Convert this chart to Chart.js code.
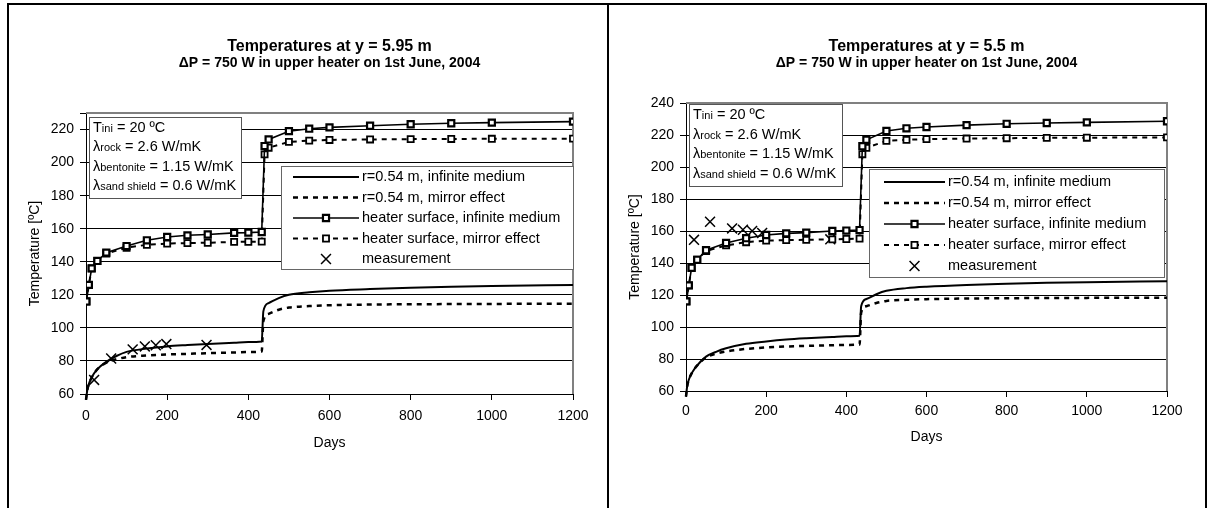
<!DOCTYPE html>
<html lang="en">
<head>
<meta charset="utf-8">
<title>Temperatures at y = 5.95 m and y = 5.5 m</title>
<script src="https://cdn.jsdelivr.net/npm/chart.js@4.4.1/dist/chart.umd.min.js"></script>
<style>
  html, body { margin: 0; padding: 0; background: #fff; }
  body { position: relative; width: 1210px; height: 508px; overflow: hidden; }
  canvas { position: absolute; top: 0; }
  #chartA { left: 0; }
  #chartB { left: 608px; }
  .frame { position: absolute; top: 3px; height: 540px; border: 2px solid #000; box-sizing: border-box; pointer-events: none; }
</style>
</head>
<body>
<canvas id="chartA" width="608" height="508"></canvas>
<canvas id="chartB" width="602" height="508"></canvas>
<div class="frame" style="left:7px; width:602px;"></div>
<div class="frame" style="left:607px; width:600px;"></div>
<script>
// output times of the model runs (days)
const surfaceDays = [1, 7, 14, 28, 50, 100, 150, 200, 250, 300, 365, 400, 433, 440, 450, 500, 550, 600, 700, 800, 900, 1000, 1200];
const nearDays = [0, 3, 7, 14, 28, 50, 75, 100, 150, 200, 250, 300, 365, 400, 433, 437, 450, 475, 500, 550, 600, 700, 800, 900, 1000, 1200];

// y = 5.95 m
const nearInf595 = [56.5, 62, 66, 70, 75, 79.5, 83, 85.5, 87.5, 88.8, 89.6, 90.3, 91, 91.4, 91.8, 110, 115, 118, 120, 121.5, 122.5, 123.5, 124.3, 124.9, 125.4, 126];
const nearMir595 = [56.5, 62, 66, 70, 75, 79, 81, 82.3, 83.3, 83.9, 84.3, 84.7, 85.1, 85.4, 85.7, 104, 108.5, 111, 112.3, 113.2, 113.7, 114.1, 114.3, 114.4, 114.5, 114.6];
const surfInf595 = [116, 126, 136, 140.5, 145.5, 149.5, 153, 155, 156, 156.5, 157.5, 157.6, 158, 210, 214, 219, 220.5, 221.3, 222.3, 223.2, 223.8, 224.2, 224.8];
const surfMir595 = [116, 126, 136, 140.5, 145, 148.5, 150.3, 151, 151.3, 151.5, 152, 152.1, 152.2, 205, 209, 212.5, 213.3, 213.7, 214, 214.2, 214.3, 214.4, 214.5];
const measDays595 = [20, 62, 115, 145, 172, 198, 297];
const measTemps595 = [68.5, 81.5, 87, 88.8, 89.5, 90.2, 89.7];

// y = 5.5 m
const nearInf55 = [56.5, 63, 67, 71, 76, 81.5, 84.5, 86.7, 89.5, 91, 92.2, 93, 93.8, 94.2, 94.5, 113, 117.5, 120.5, 122.6, 124.3, 125.2, 126.3, 127, 127.6, 128, 128.6];
const nearMir55 = [56.5, 63, 67, 71, 76, 81, 83.3, 84.7, 86.3, 87.2, 87.8, 88.2, 88.6, 88.8, 89, 109, 113, 115, 116.3, 117, 117.4, 117.8, 118, 118.1, 118.2, 118.3];
const surfInf55 = [116, 126, 137, 142, 148, 152.5, 155.5, 157.5, 158.5, 159, 160, 160.3, 160.6, 213, 217, 222.5, 224.2, 225, 226.2, 227, 227.5, 227.9, 228.6];
const surfMir55 = [116, 126, 137, 142, 147.5, 151, 153, 154, 154.3, 154.5, 154.8, 155, 155.2, 208, 212, 216.3, 217, 217.4, 217.8, 218, 218.2, 218.3, 218.5];
const measDays55 = [20, 60, 115, 142, 165, 190, 360];
const measTemps55 = [154.5, 165.8, 161.6, 160.8, 160, 158.8, 154.8];

const seriesNames = [
  'r=0.54 m, infinite medium',
  'r=0.54 m, mirror effect',
  'heater surface, infinite medium',
  'heater surface, mirror effect',
  'measurement'
];
const subtitleText = '\u0394P = 750 W in upper heater on 1st June, 2004';
// [symbol, subscript, rest]
const paramLines = [
  ['T', 'ini', ' = 20 \u00baC'],
  ['\u03bb', 'rock', ' = 2.6 W/mK'],
  ['\u03bb', 'bentonite', ' = 1.15 W/mK'],
  ['\u03bb', 'sand shield', ' = 0.6 W/mK']
];

const FONT = '"Liberation Sans", Arial, sans-serif';
Chart.defaults.font.family = FONT;
Chart.defaults.color = '#000';

const pts = (xs, ys) => xs.map((x, i) => ({ x: x, y: ys[i] }));

function buildDatasets(nearInf, nearMir, surfInf, surfMir, measDays, measTemps) {
  return [
    { label: seriesNames[0], data: pts(nearDays, nearInf), borderColor: '#000', borderWidth: 2,
      pointRadius: 0, cubicInterpolationMode: 'monotone', clip: false },
    { label: seriesNames[1], data: pts(nearDays, nearMir), borderColor: '#000', borderWidth: 2.5,
      borderDash: [5, 5], pointRadius: 0, cubicInterpolationMode: 'monotone', clip: false },
    { label: seriesNames[2], data: pts(surfaceDays, surfInf), borderColor: '#000', borderWidth: 1.6,
      pointStyle: 'rect', pointRadius: 4.3, pointBorderWidth: 2.2, pointBorderColor: '#000', pointBackgroundColor: '#fff' },
    { label: seriesNames[3], data: pts(surfaceDays, surfMir), borderColor: '#000', borderWidth: 2,
      borderDash: [5, 5], pointStyle: 'rect', pointRadius: 4.3, pointBorderWidth: 1.8, pointBorderColor: '#000', pointBackgroundColor: '#fff' },
    { label: seriesNames[4], data: pts(measDays, measTemps), showLine: false, borderColor: '#000',
      pointStyle: 'crossRot', pointRadius: 7, pointBorderWidth: 1.5, pointBorderColor: '#000' }
  ];
}

// grey frame on the top and right of the plot area
const plotFrame = {
  id: 'plotFrame',
  beforeDatasetsDraw(chart) {
    const { ctx, chartArea: a } = chart;
    ctx.save();
    ctx.strokeStyle = '#808080';
    ctx.lineWidth = 2;
    ctx.beginPath();
    ctx.moveTo(a.left, a.top);
    ctx.lineTo(a.right, a.top);
    ctx.lineTo(a.right, a.bottom);
    ctx.stroke();
    ctx.restore();
  }
};

// parameter box and series key
const keys = {
  id: 'keys',
  afterDraw(chart, args, opts) {
    const ctx = chart.ctx;
    const p = opts.params;
    const k = opts.key;
    ctx.save();

    ctx.fillStyle = '#fff';
    ctx.fillRect(p.x, p.y, p.w, p.h);
    ctx.strokeStyle = '#555';
    ctx.lineWidth = 1;
    ctx.strokeRect(p.x + 0.5, p.y + 0.5, p.w, p.h);
    ctx.fillStyle = '#000';
    ctx.textBaseline = 'alphabetic';
    ctx.textAlign = 'left';
    paramLines.forEach((parts, i) => {
      let x = p.x + 4;
      const y = p.y + p.first + i * p.step;
      parts.forEach((s, j) => {
        ctx.font = (j === 1 ? '11px ' : '14.5px ') + FONT;
        ctx.fillText(s, x, y);
        x += ctx.measureText(s).width;
      });
    });

    ctx.fillStyle = '#fff';
    ctx.fillRect(k.x, k.y, k.w, k.h);
    ctx.strokeStyle = '#666';
    ctx.strokeRect(k.x + 0.5, k.y + 0.5, k.w, k.h);
    ctx.font = '14.5px ' + FONT;
    ctx.textBaseline = 'middle';
    chart.data.datasets.forEach((ds, i) => {
      const y = k.rows[i];
      const mid = (k.x1 + k.x2) / 2;
      ctx.strokeStyle = '#000';
      ctx.fillStyle = '#000';
      if (ds.showLine !== false) {
        ctx.lineWidth = ds.borderWidth;
        ctx.setLineDash(ds.borderDash || []);
        ctx.beginPath();
        ctx.moveTo(k.x1, y);
        ctx.lineTo(k.x2, y);
        ctx.stroke();
        ctx.setLineDash([]);
      }
      if (ds.pointRadius) {
        ctx.lineWidth = ds.pointBorderWidth;
        ctx.fillStyle = ds.pointBackgroundColor || '#fff';
        Chart.helpers.drawPoint(ctx, { pointStyle: ds.pointStyle, radius: ds.pointRadius, borderWidth: ds.pointBorderWidth, rotation: 0 }, mid, y);
      }
      ctx.fillStyle = '#000';
      ctx.fillText(ds.label, k.tx, y);
    });
    ctx.restore();
  }
};

function buildOptions(cfg) {
  return {
    responsive: false,
    animation: false,
    events: [],
    layout: { padding: { left: cfg.padLeft, right: cfg.padRight, top: 0, bottom: cfg.padBottom } },
    plugins: {
      legend: { display: false },
      tooltip: { enabled: false },
      title: {
        display: true, text: cfg.title, fullSize: false, color: '#000',
        font: { size: 16, weight: 'bold', lineHeight: 1 }, padding: { top: 39, bottom: 0 }
      },
      subtitle: {
        display: true, text: subtitleText, fullSize: false, color: '#000',
        font: { size: 14, weight: 'bold', lineHeight: 1.2 }, padding: { top: 0, bottom: cfg.subGap }
      },
      keys: { params: cfg.params, key: cfg.key }
    },
    scales: {
      x: {
        type: 'linear', min: 0, max: 1200,
        ticks: { stepSize: 200, padding: cfg.tickPad, font: { size: 14 }, color: '#000', callback: (v) => String(v) },
        grid: { drawOnChartArea: false, tickLength: 6, color: '#000' },
        border: { color: '#000', width: 1 },
        title: { display: true, text: 'Days', font: { size: 14 }, padding: 0, color: '#000' },
        afterFit: (s) => { s.height = cfg.xHeight; }
      },
      y: {
        type: 'linear', min: 60, max: cfg.yMax, bounds: 'data',
        ticks: { stepSize: 20, includeBounds: false, padding: 6, font: { size: 14 }, color: '#000',
          callback: (v) => (v % 20 === 0 ? String(v) : '') },
        grid: { color: '#000', lineWidth: 1, tickLength: 6 },
        border: { color: '#000', width: 1 },
        title: { display: true, text: 'Temperature [\u00baC]', font: { size: 14 }, padding: 0, color: '#000' },
        afterFit: (s) => { s.width = 59; }
      }
    }
  };
}

new Chart(document.getElementById('chartA'), {
  type: 'line',
  data: { datasets: buildDatasets(nearInf595, nearMir595, surfInf595, surfMir595, measDays595, measTemps595) },
  options: buildOptions({
    title: 'Temperatures at y = 5.95 m', yMax: 230,
    padLeft: 27, padRight: 35, padBottom: 56, xHeight: 58, tickPad: 8, subGap: 41.2,
    params: { x: 89, y: 117, w: 152, h: 81, first: 15, step: 19.3 },
    key: { x: 281, y: 166, w: 292, h: 103, rows: [177, 197.5, 218, 238.5, 259], x1: 293, x2: 359, tx: 362 }
  }),
  plugins: [plotFrame, keys]
});

new Chart(document.getElementById('chartB'), {
  type: 'line',
  data: { datasets: buildDatasets(nearInf55, nearMir55, surfInf55, surfMir55, measDays55, measTemps55) },
  options: buildOptions({
    title: 'Temperatures at y = 5.5 m', yMax: 240,
    padLeft: 19, padRight: 43, padBottom: 62, xHeight: 55, tickPad: 6, subGap: 31.2,
    params: { x: 81, y: 104, w: 153, h: 82, first: 15, step: 19.7 },
    key: { x: 261, y: 169, w: 295, h: 108, rows: [182, 203, 224, 245, 266], x1: 276, x2: 337, tx: 340 }
  }),
  plugins: [plotFrame, keys]
});
</script>
</body>
</html>
